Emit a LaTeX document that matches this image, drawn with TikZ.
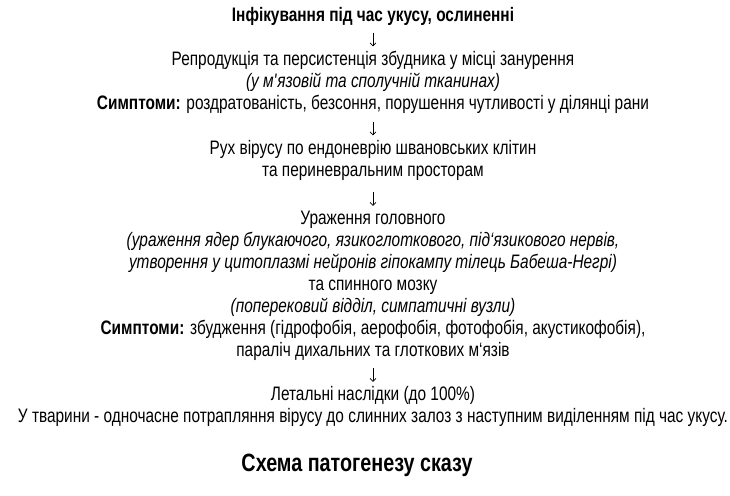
\documentclass[tikz,border=0pt]{standalone}
\usepackage{fontspec}
\setmainfont{Liberation Sans}[FakeStretch=0.79]
\usetikzlibrary{positioning,arrows.meta}

\begin{document}
\begin{tikzpicture}
  [x=1pt, y=-1pt,
   every node/.style={align=center, inner sep=0pt, font=\fontsize{19.5}{22}\selectfont},
   stepline/.style={-{Straight Barb[length=3pt,width=6pt]}, line width=0.6pt, shorten >=3.5pt}]
  \useasboundingbox (0,0) rectangle (730,495);
  \node (infect) at (373,17) {\strut\textbf{Інфікування під час укусу, ослиненні}};
  \node (repro) at (373,83) {\strut Репродукція та персистенція збудника у місці занурення\\
    \strut\textit{(у м\textquotesingle язовій та сполучній тканинах)}\\
    \strut\textbf{Симптоми:} роздратованість, безсоння, порушення чутливості у ділянці рани};
  \node (spread) at (373,161) {\strut Рух вірусу по ендоневрію швановських клітин\\
    \strut та периневральним просторам};
  \node (brain) at (373,286.5) {\strut Ураження головного\\
    \strut\textit{(ураження ядер блукаючого, язикоглоткового, під‘язикового нервів,}\\
    \strut\textit{утворення у цитоплазмі нейронів гіпокампу тілець Бабеша-Негрі)}\\
    \strut та спинного мозку\\
    \strut\textit{(поперековий відділ, симпатичні вузли)}\\
    \strut\textbf{Симптоми:} збудження (гідрофобія, аерофобія, фотофобія, акустикофобія),\\
    \strut параліч дихальних та глоткових м‘язів};
  \node (death) at (373,407.5) {\strut Летальні наслідки (до 100\%)\\
    \strut У тварини - одночасне потрапляння вірусу до слинних залоз з наступним виділенням під час укусу.};
  \node[font=\fontsize{25}{28}\selectfont\bfseries] (caption) at (357,465) {Схема патогенезу сказу};

  \draw[stepline, shorten <=4.5pt] (infect) -- (repro);
  \draw[stepline, shorten <=5.5pt] (repro) -- (spread);
  \draw[stepline, shorten <=9pt] (spread) -- (brain);
  \draw[stepline, shorten <=4.5pt] (brain) -- (death);
\end{tikzpicture}
\end{document}
